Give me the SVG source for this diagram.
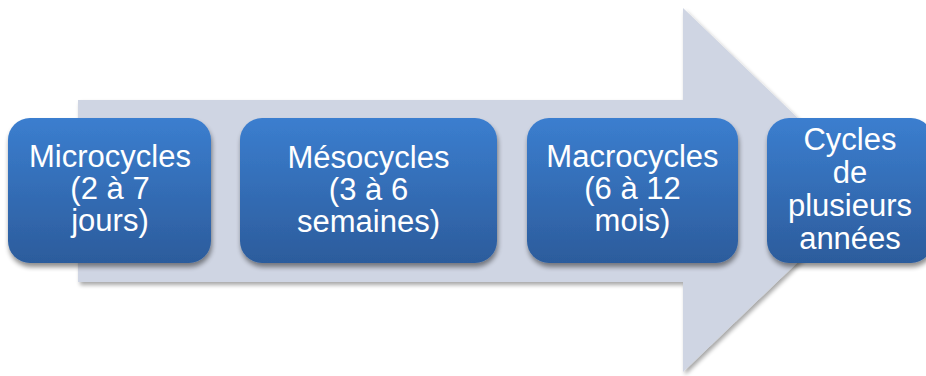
<svg xmlns="http://www.w3.org/2000/svg" width="926" height="376" viewBox="0 0 926 376">
  <defs>
    <linearGradient id="boxFill" x1="0" y1="0" x2="0" y2="1">
      <stop offset="0" stop-color="#3b7ecf"/>
      <stop offset="1" stop-color="#2c5c9c"/>
    </linearGradient>
    <filter id="shadow" x="-10%" y="-10%" width="125%" height="130%">
      <feGaussianBlur in="SourceAlpha" stdDeviation="2.5"/>
      <feOffset dx="1" dy="4" result="b"/>
      <feComponentTransfer><feFuncA type="linear" slope="0.45"/></feComponentTransfer>
      <feMerge><feMergeNode/><feMergeNode in="SourceGraphic"/></feMerge>
    </filter>
    <filter id="arrowShadow" x="-5%" y="-5%" width="110%" height="115%">
      <feGaussianBlur in="SourceAlpha" stdDeviation="2"/>
      <feOffset dx="2" dy="3"/>
      <feComponentTransfer><feFuncA type="linear" slope="0.35"/></feComponentTransfer>
      <feMerge><feMergeNode/><feMergeNode in="SourceGraphic"/></feMerge>
    </filter>
  </defs>
  <style>
    .box { fill: url(#boxFill); filter: url(#shadow); }
    .label { font-family: "Liberation Sans", Arial, sans-serif; font-size: 31px; fill: #ffffff; text-anchor: middle; }
  </style>

  <!-- background arrow -->
  <g id="connectors">
    <path d="M78 100 H683 V8 L873 190 L683 372 V282 H78 Z" fill="#cfd5e3" filter="url(#arrowShadow)"/>
  </g>

  <g id="microcycles">
    <rect class="box" x="8" y="118" width="203" height="145" rx="22"/>
    <text class="label"><tspan x="110" y="167">Microcycles</tspan><tspan x="110" y="199">(2 à 7</tspan><tspan x="110" y="231">jours)</tspan></text>
  </g>

  <g id="mesocycles">
    <rect class="box" x="240" y="118" width="257" height="145" rx="22"/>
    <text class="label"><tspan x="368.5" y="167.5">Mésocycles</tspan><tspan x="368.5" y="199.5">(3 à 6</tspan><tspan x="368.5" y="231.5">semaines)</tspan></text>
  </g>

  <g id="macrocycles">
    <rect class="box" x="527" y="118" width="211" height="145" rx="22"/>
    <text class="label"><tspan x="632.5" y="167">Macrocycles</tspan><tspan x="632.5" y="199">(6 à 12</tspan><tspan x="632.5" y="231">mois)</tspan></text>
  </g>

  <g id="multi-year">
    <rect class="box" x="767" y="118" width="166" height="145" rx="22"/>
    <text class="label"><tspan x="850" y="150">Cycles</tspan><tspan x="850" y="182.5">de</tspan><tspan x="850" y="215.5">plusieurs</tspan><tspan x="850" y="248.5">années</tspan></text>
  </g>
</svg>
